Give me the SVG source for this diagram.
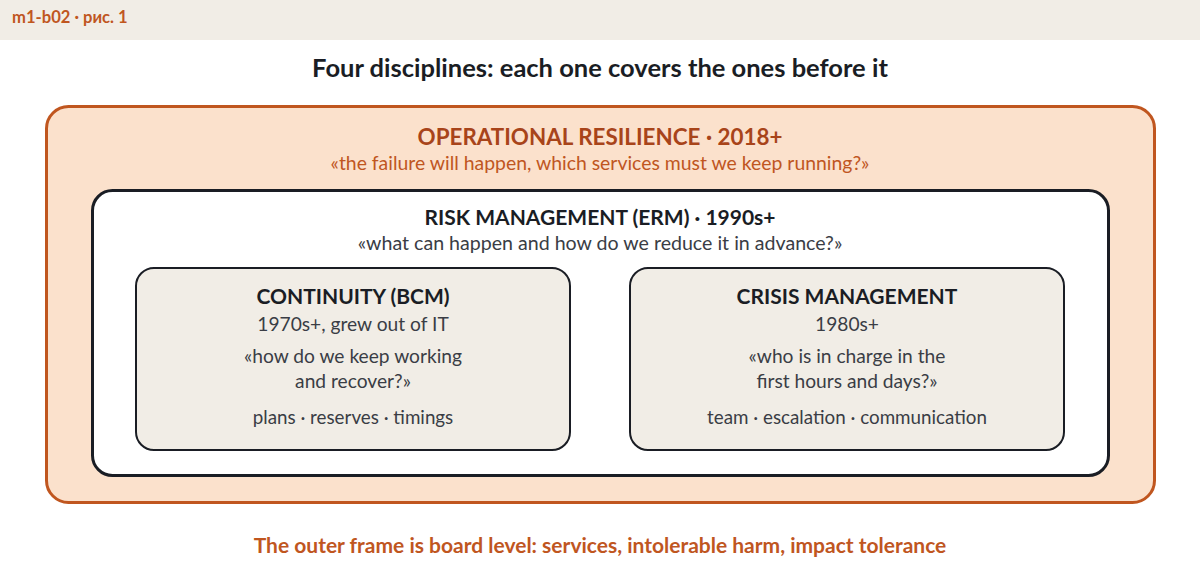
<svg xmlns="http://www.w3.org/2000/svg" width="1200" height="579" viewBox="0 0 1200 579">
<style>
text{font-family:Lato,"Noto Sans","Liberation Sans",sans-serif;text-anchor:middle}
.b{font-weight:700}
.t{font-size:21px;font-weight:700;fill:#1a1d24}
.s{font-size:19.2px;fill:#3a3d45}
.g{font-size:18.8px;fill:#3a3d45}
.box{fill:#f1ede6;stroke:#1a1d24;stroke-width:2}
</style>
<rect x="0" y="0" width="1200" height="40" fill="#f1ede6"/>
<text x="12" y="23" style="text-anchor:start;font-size:16.6px;font-weight:700;fill:#c0561f">m1-b02 · рис. 1</text>
<text x="600" y="77" class="b" style="font-size:25.5px;fill:#1a1d24">Four disciplines: each one covers the ones before it</text>
<g id="operational-resilience">
<rect x="46.5" y="106.5" width="1108" height="396" rx="22" fill="#fbe1cc" stroke="#c0561f" stroke-width="3"/>
<text x="600" y="145" class="b" style="font-size:22.4px;fill:#a8441a">OPERATIONAL RESILIENCE · 2018+</text>
<text x="600" y="170" style="font-size:19.4px;fill:#c0561f">«the failure will happen, which services must we keep running?»</text>
</g>
<g id="risk-management">
<rect x="92.5" y="190.5" width="1016" height="285" rx="20" fill="#fff" stroke="#1a1d24" stroke-width="3"/>
<text x="600" y="225" class="t">RISK MANAGEMENT (ERM) · 1990s+</text>
<text x="600" y="250" class="s" style="font-size:19.6px">«what can happen and how do we reduce it in advance?»</text>
</g>
<g id="continuity">
<rect x="136" y="268" width="434" height="182" rx="18" class="box"/>
<text x="353" y="304" class="t">CONTINUITY (BCM)</text>
<text x="353" y="331" class="s">1970s+, grew out of IT</text>
<text x="353" y="363" class="s">«how do we keep working</text>
<text x="353" y="388" class="s">and recover?»</text>
<text x="353" y="424" class="g">plans · reserves · timings</text>
</g>
<g id="crisis-management">
<rect x="630" y="268" width="434" height="182" rx="18" class="box"/>
<text x="847" y="304" class="t">CRISIS MANAGEMENT</text>
<text x="847" y="331" class="s">1980s+</text>
<text x="847" y="363" class="s">«who is in charge in the</text>
<text x="847" y="388" class="s">first hours and days?»</text>
<text x="847" y="424" class="g">team · escalation · communication</text>
</g>
<g id="connectors"></g>
<text x="600" y="553" class="b" style="font-size:21px;fill:#c0561f">The outer frame is board level: services, intolerable harm, impact tolerance</text>
</svg>
